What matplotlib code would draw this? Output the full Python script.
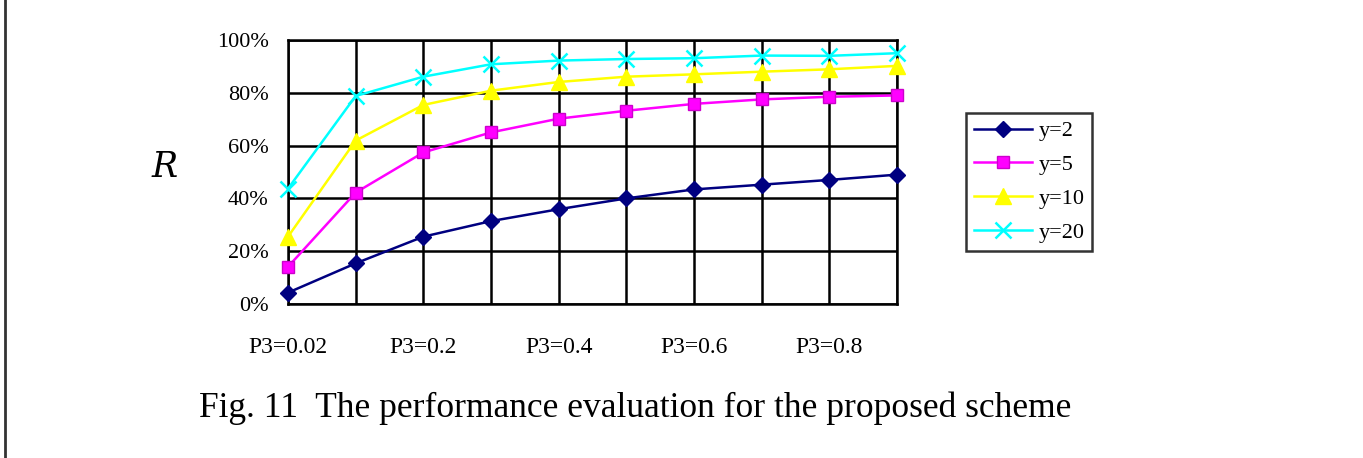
import matplotlib
matplotlib.use('Agg')
import matplotlib.pyplot as plt
from matplotlib.ticker import FuncFormatter
from matplotlib.lines import Line2D

# --- data ---
x_points = list(range(10))
tick_positions = [0, 2, 4, 6, 8]
tick_labels = ['P3=0.02', 'P3=0.2', 'P3=0.4', 'P3=0.6', 'P3=0.8']

y2 = [4.3, 15.4, 25.5, 31.4, 35.9, 40.0, 43.4, 45.2, 47.0, 49.0]
y5 = [14.1, 42.2, 57.4, 65.0, 70.2, 73.2, 75.8, 77.5, 78.5, 79.0]
y10 = [25.5, 61.9, 75.4, 80.8, 84.1, 86.1, 87.0, 88.0, 88.9, 90.2]
y20 = [43.7, 78.8, 86.1, 90.8, 92.2, 92.8, 93.1, 94.1, 94.0, 95.0]

series_labels = ['y=2', 'y=5', 'y=10', 'y=20']

plt.rcParams['font.family'] = 'Liberation Serif'

fig = plt.figure(figsize=(13.63, 4.58), dpi=100)
ax = fig.add_axes([288 / 1363, 1 - 304 / 458, 609 / 1363, 264 / 458])

common = dict(lw=1.8, clip_on=False, zorder=3)
ax.plot(x_points, y2, color='#000080', marker='D', markersize=8, label=series_labels[0], **common)
ax.plot(x_points, y5, color='#FF00FF', marker='s', markersize=9,
        markerfacecolor='#FF00FF', markeredgecolor='#CC00CC', label=series_labels[1], **common)
ax.plot(x_points, y10, color='#FFFF00', marker='^', markersize=11, label=series_labels[2], **common)
ax.plot(x_points, y20, color='#00FFFF', marker='x', markersize=12, mew=1.8, label=series_labels[3], **common)

ax.set_xlim(0, 9)
ax.set_ylim(0, 100)
ax.set_yticks([0, 20, 40, 60, 80, 100])
ax.yaxis.set_major_formatter(FuncFormatter(lambda v, p: f'{v:.0f}%'))
ax.set_xticks(x_points)
ax.set_xticklabels(['' for _ in x_points])
for pos, lab in zip(tick_positions, tick_labels):
    ax.text(pos, -16.5, lab, ha='center', va='center', fontsize=17, clip_on=False)

ax.grid(True, color='black', lw=1.8)
for s in ax.spines.values():
    s.set_linewidth(1.8)
ax.tick_params(axis='x', length=0)
ax.tick_params(axis='y', length=0, labelsize=16, pad=14)

ax.text(-0.202, 0.52, 'R', transform=ax.transAxes, fontsize=25, style='italic',
        ha='center', va='center', family='DejaVu Serif')

leg = ax.legend(loc='upper left', bbox_to_anchor=(966 / 1363, 1 - 113 / 458),
                bbox_transform=fig.transFigure, fancybox=False, edgecolor='black',
                fontsize=16, handlelength=2.6, labelspacing=0.6, borderpad=0.35,
                handletextpad=0.3, borderaxespad=0)
leg.get_frame().set_linewidth(1.8)

fig.text(0.5 * (197 + 1073) / 1363, 1 - 408 / 458,
         'Fig. 11  The performance evaluation for the proposed scheme',
         ha='center', va='center', fontsize=25.5)

fig.add_artist(Line2D([4.5 / 1363, 4.5 / 1363], [0, 1], color='#333333', lw=2,
                      transform=fig.transFigure))

fig.savefig('out.png', dpi=100)
